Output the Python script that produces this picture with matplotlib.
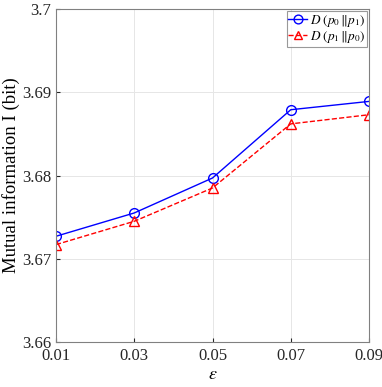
import matplotlib
matplotlib.use("Agg")
import matplotlib.pyplot as plt

# data
eps = [0.01, 0.03, 0.05, 0.07, 0.09]
d01 = [3.6727, 3.6755, 3.6797, 3.6879, 3.6889]
d10 = [3.6717, 3.6745, 3.6785, 3.6862, 3.6873]
yticks = [3.66, 3.67, 3.68, 3.69, 3.70]
ytick_labels = ["3.66", "3.67", "3.68", "3.69", "3.7"]

plt.rcParams['font.family'] = ['Liberation Serif', 'DejaVu Serif']
plt.rcParams['mathtext.fontset'] = 'stix'

fig = plt.figure(figsize=(3.82, 3.87), dpi=100)
ax = fig.add_axes([56/382, 45/387, 313/382, 333/387])

ax.plot(eps, d01, color='#0000ff', lw=1.0, marker='o', ms=7, mfc='none', mew=1.0,
        label=r'$D\ (p_0\,\|p_1)$')
ax.plot(eps, d10, color='#ff0000', lw=1.0, ls='--', marker='^', ms=7, mfc='none', mew=1.0,
        label=r'$D\ (p_1\,\|p_0)$')

ax.set_xlim(0.01, 0.09)
ax.set_ylim(3.66, 3.70)
ax.set_xticks(eps)
ax.set_xticklabels(["0.01", "0.03", "0.05", "0.07", "0.09"])
ax.set_yticks(yticks)
ax.set_yticklabels(ytick_labels)
ax.tick_params(direction='in', labelsize=12, colors='#262626', length=3)
ax.tick_params(axis='x', pad=4)
ax.grid(True, color='#e6e6e6', lw=0.7)
ax.set_axisbelow(True)
for s in ax.spines.values():
    s.set_color('#808080')
    s.set_linewidth(0.8)

ax.set_xlabel(r'$\varepsilon$', fontsize=13, labelpad=2)
ax.set_ylabel('Mutual information I (bit)', fontsize=13.5, labelpad=1)

leg = ax.legend(loc='upper right', fontsize=9.5, frameon=True, fancybox=False,
                edgecolor='#808080', handlelength=1.4, handletextpad=0.2,
                borderpad=0.15, labelspacing=0.0, borderaxespad=0.15,
                markerscale=0.9)
leg.get_frame().set_linewidth(0.8)

fig.savefig('out.png', dpi=100)
